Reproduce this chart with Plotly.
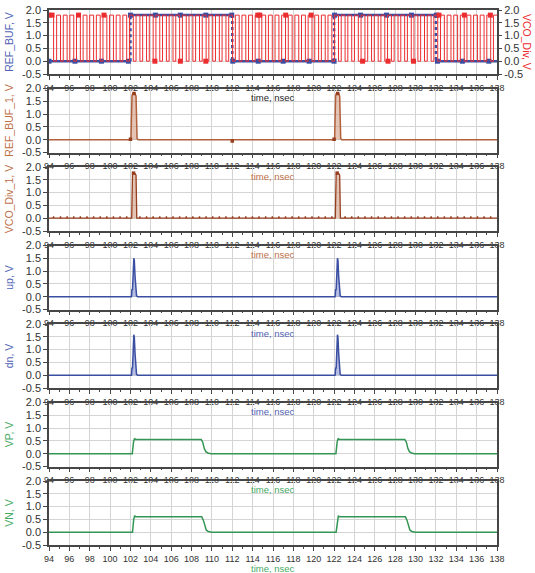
import plotly.graph_objects as go

# ---------------- data ----------------
X_TICKS = list(range(94, 139, 2))
Y_TICKS = [-0.5, 0.0, 0.5, 1.0, 1.5, 2.0]
Y_TICK_TEXT = ["-0.5", "0.0", "0.5", "1.0", "1.5", "2.0"]
X_TITLE = "time, nsec"

Y_TITLES = ["REF_BUF, V", "REF_BUF_1, V", "VCO_Div_1, V", "up, V", "dn, V", "VP, V", "VN, V"]
Y2_TITLE = "VCO_Div, V"

# REF_BUF (blue, top panel)
REF_BUF_T = [94, 102, 102, 112, 112, 122, 122, 132, 132, 138]
REF_BUF_V = [0, 0, 1.8, 1.8, 0, 0, 1.8, 1.8, 0, 0]
REF_BUF_MK_T = [94.0, 96.55, 99.15, 101.8, 102.0, 104.45, 106.9, 109.4, 111.95, 112.05, 114.55,
                117.0, 119.55, 122.0, 122.05, 124.6, 127.15, 129.6, 132.05, 132.15, 134.6, 137.2]
REF_BUF_MK_V = [0, 0, 0, 0, 1.8, 1.8, 1.8, 1.8, 1.8, 0, 0,
                0, 0, 0, 1.8, 1.8, 1.8, 1.8, 1.8, 0, 0, 0]

# VCO_Div (red, top panel, right axis)
VCO_HIGH = 1.8
VCO_LOW = 0.0
VCO_FALL = [94.45, 95.13, 95.78, 96.43, 97.08, 97.73, 98.38, 99.03, 99.68, 100.33, 100.98,
            101.63, 102.28, 102.93, 103.58, 104.23, 104.88, 105.53, 106.18, 106.83, 107.48,
            108.13, 108.78, 109.43, 110.08, 110.73, 111.38, 112.03, 112.68, 113.33, 113.98,
            114.63, 115.28, 115.93, 116.58, 117.23, 117.88, 118.53, 119.18, 119.83, 120.48,
            121.13, 121.78, 122.43, 123.08, 123.73, 124.38, 125.03, 125.68, 126.33, 126.98,
            127.63, 128.28, 128.93, 129.58, 130.23, 130.88, 131.53, 132.18, 132.83, 133.48,
            134.13, 134.78, 135.43, 136.08, 136.73, 137.38]
VCO_RISE = [94.75, 95.40, 96.05, 96.70, 97.35, 98.00, 98.65, 99.30, 99.95, 100.60, 101.25,
            101.90, 102.55, 103.20, 103.85, 104.50, 105.15, 105.80, 106.45, 107.10, 107.75,
            108.40, 109.05, 109.70, 110.35, 111.00, 111.65, 112.30, 112.95, 113.60, 114.25,
            114.90, 115.55, 116.20, 116.85, 117.50, 118.15, 118.80, 119.45, 120.10, 120.75,
            121.40, 122.05, 122.70, 123.35, 124.00, 124.65, 125.30, 125.95, 126.60, 127.25,
            127.90, 128.55, 129.20, 129.85, 130.50, 131.15, 131.80, 132.45, 133.10, 133.75,
            134.40, 135.05, 135.70, 136.35, 137.00, 137.65]
VCO_MK_T = [94.0, 94.3, 96.9, 99.4, 104.4, 106.9, 109.4, 114.5, 114.7, 117.25, 119.75,
            124.8, 127.3, 129.8, 132.3, 134.8, 137.35]
VCO_MK_V = [1.8, 1.8, 1.8, 1.8, 0, 0, 0, 1.8, 1.8, 1.8, 1.8,
            0, 0, 0, 1.8, 1.8, 1.8]

# REF_BUF_1
REF_BUF_1_T = [94, 102.05, 102.15, 102.25, 102.45, 102.55, 102.65, 102.75, 111.98, 112.0, 112.04,
               122.05, 122.15, 122.25, 122.45, 122.55, 122.65, 122.75, 138]
REF_BUF_1_V = [0, 0, 1.72, 1.82, 1.8, 1.7, 0.05, 0, 0, -0.05, 0,
               0, 1.72, 1.82, 1.8, 1.7, 0.05, 0, 0]
REF_BUF_1_MK_T = [102.0, 102.35, 112.0, 122.0, 122.35]
REF_BUF_1_MK_V = [0.02, 1.8, -0.05, 0.02, 1.8]

# VCO_Div_1
VCO1_PULSE_T = [102.12, 102.2, 102.27, 102.45, 102.55, 102.62,
                122.12, 122.2, 122.27, 122.45, 122.55, 122.62]
VCO1_PULSE_V = [0, 1.68, 1.78, 1.75, 1.68, 0,
                0, 1.68, 1.78, 1.75, 1.68, 0]
VCO1_BUMP_H = 0.07
VCO1_MK_T = [102.3, 122.3]
VCO1_MK_V = [1.76, 1.76]

# up / dn
UP_T = [94, 102.1, 102.15, 102.2, 102.27, 102.33, 102.38, 102.45, 102.52, 102.6, 102.7,
        122.1, 122.15, 122.2, 122.27, 122.33, 122.38, 122.45, 122.52, 122.6, 122.7, 138]
UP_V = [0, 0, 0.3, 0.25, 0.9, 1.5, 1.42, 0.8, 0.2, 0.03, 0,
        0, 0.3, 0.25, 0.9, 1.5, 1.42, 0.8, 0.2, 0.03, 0, 0]
DN_T = [94, 102.1, 102.15, 102.2, 102.27, 102.33, 102.38, 102.45, 102.52, 102.6, 102.7,
        122.1, 122.15, 122.2, 122.27, 122.33, 122.38, 122.45, 122.52, 122.6, 122.7, 138]
DN_V = [0, 0, 0.3, 0.25, 0.95, 1.58, 1.48, 0.85, 0.2, 0.03, 0,
        0, 0.3, 0.25, 0.95, 1.58, 1.48, 0.85, 0.2, 0.03, 0, 0]

# VP / VN
VP_T = [94, 102.18, 102.3, 102.4, 102.5, 108.95, 109.1, 109.25, 109.4, 109.6, 109.9,
        122.18, 122.3, 122.4, 122.5, 128.95, 129.1, 129.25, 129.4, 129.6, 129.9, 138]
VP_V = [0, 0, 0.45, 0.6, 0.55, 0.55, 0.45, 0.2, 0.08, 0.03, 0,
        0, 0.45, 0.6, 0.55, 0.55, 0.45, 0.2, 0.08, 0.03, 0, 0]
VN_T = [94, 102.2, 102.32, 102.42, 102.5, 109.0, 109.15, 109.3, 109.45, 109.65, 109.95,
        122.2, 122.32, 122.42, 122.5, 129.0, 129.15, 129.3, 129.45, 129.65, 129.95, 138]
VN_V = [0, 0, 0.5, 0.65, 0.6, 0.6, 0.48, 0.22, 0.08, 0.03, 0,
        0, 0.5, 0.65, 0.6, 0.6, 0.48, 0.22, 0.08, 0.03, 0, 0]

# ---------------- styles ----------------
BLUE = "rgb(58,78,162)"
BLUE_T = "rgb(80,98,180)"
RED = "rgb(236,45,48)"
BROWN = "rgb(178,96,60)"
BROWN_DK = "rgb(150,62,30)"
BROWN_T = "rgb(190,112,72)"
GREEN = "rgb(52,150,84)"
GREEN_T = "rgb(70,170,100)"
FONT = "Liberation Sans, Arial, sans-serif"

TITLE_COLORS = [BLUE_T, BROWN_T, BROWN_T, BLUE_T, BLUE_T, GREEN_T, GREEN_T]
XT_COLORS = ["rgb(40,40,40)", BROWN_T, BROWN_T, BLUE_T, BLUE_T, GREEN_T, GREEN_T]

W, H = 535, 573
ML, MR, MT, MB = 49, 38, 10, 26
PH = H - MT - MB
PANEL_H, GAP = 64, 14.5


def dom(i):
    top = i * (PANEL_H + GAP)
    bot = top + PANEL_H
    return [max(0, 1 - bot / PH), 1 - top / PH]


def step_wave(falls, rises, hi, lo, t0, t1):
    ev = sorted([(t, lo) for t in falls] + [(t, hi) for t in rises])
    xs, ys = [t0], [hi]
    lvl = hi
    for t, new in ev:
        if t > t1:
            break
        xs += [t, t]
        ys += [lvl, new]
        lvl = new
    xs.append(t1)
    ys.append(lvl)
    return xs, ys


fig = go.Figure()

# panel 1: REF_BUF and VCO_Div
vx, vy = step_wave(VCO_FALL, VCO_RISE, VCO_HIGH, VCO_LOW, 94, 138)
fig.add_trace(go.Scatter(x=vx, y=vy, mode="lines", line=dict(color=RED, width=1),
                         xaxis="x", yaxis="y8"))
fig.add_trace(go.Scatter(x=VCO_MK_T, y=VCO_MK_V, mode="markers",
                         marker=dict(color=RED, size=5, symbol="square"),
                         xaxis="x", yaxis="y8"))

hx, hy, ex, ey = [], [], [], []
for i in range(len(REF_BUF_T) - 1):
    a, b = REF_BUF_T[i], REF_BUF_T[i + 1]
    if a == b:
        ex += [a, b, None]
        ey += [REF_BUF_V[i], REF_BUF_V[i + 1], None]
    else:
        hx += [a, b, None]
        hy += [REF_BUF_V[i], REF_BUF_V[i + 1], None]
fig.add_trace(go.Scatter(x=hx, y=hy, mode="lines", line=dict(color=BLUE, width=2.5),
                         xaxis="x", yaxis="y"))
fig.add_trace(go.Scatter(x=ex, y=ey, mode="lines", line=dict(color=BLUE, width=2.5, dash="dot"),
                         xaxis="x", yaxis="y"))
fig.add_trace(go.Scatter(x=REF_BUF_MK_T, y=REF_BUF_MK_V, mode="markers",
                         marker=dict(color=BLUE, size=5, symbol="square"),
                         xaxis="x", yaxis="y"))

# panel 2: REF_BUF_1
fig.add_trace(go.Scatter(x=REF_BUF_1_T, y=REF_BUF_1_V, mode="lines", fill="tozeroy",
                         fillcolor="rgba(205,150,120,0.55)",
                         line=dict(color=BROWN, width=1.5), xaxis="x2", yaxis="y2"))
fig.add_trace(go.Scatter(x=REF_BUF_1_MK_T, y=REF_BUF_1_MK_V, mode="markers",
                         marker=dict(color=BROWN_DK, size=3.5, symbol="square"),
                         xaxis="x2", yaxis="y2"))

# panel 3: VCO_Div_1 (coupling bumps at each VCO falling edge)
pts = list(zip(VCO1_PULSE_T, VCO1_PULSE_V))
for t in VCO_FALL:
    if any(abs(t - p) < 0.5 for p in (102.35, 122.35)):
        continue
    pts += [(t - 0.04, 0.0), (t, VCO1_BUMP_H), (t + 0.04, 0.0)]
pts += [(94, 0.0), (138, 0.0)]
pts.sort()
fig.add_trace(go.Scatter(x=[p[0] for p in pts], y=[p[1] for p in pts], mode="lines",
                         fill="tozeroy", fillcolor="rgba(205,150,120,0.55)",
                         line=dict(color=BROWN_DK, width=1.3), xaxis="x3", yaxis="y3"))
fig.add_trace(go.Scatter(x=VCO1_MK_T, y=VCO1_MK_V, mode="markers",
                         marker=dict(color=BROWN_DK, size=3.5, symbol="square"),
                         xaxis="x3", yaxis="y3"))

# panel 4, 5: up / dn
fig.add_trace(go.Scatter(x=UP_T, y=UP_V, mode="lines", fill="tozeroy",
                         fillcolor="rgba(110,125,200,0.5)",
                         line=dict(color=BLUE, width=1.5), xaxis="x4", yaxis="y4"))
fig.add_trace(go.Scatter(x=DN_T, y=DN_V, mode="lines", fill="tozeroy",
                         fillcolor="rgba(110,125,200,0.5)",
                         line=dict(color=BLUE, width=1.5), xaxis="x5", yaxis="y5"))

# panel 6, 7: VP / VN
fig.add_trace(go.Scatter(x=VP_T, y=VP_V, mode="lines",
                         line=dict(color=GREEN, width=1.5), xaxis="x6", yaxis="y6"))
fig.add_trace(go.Scatter(x=VN_T, y=VN_V, mode="lines",
                         line=dict(color=GREEN, width=1.5), xaxis="x7", yaxis="y7"))

layout = dict(
    width=W, height=H, margin=dict(l=ML, r=MR, t=MT, b=MB),
    paper_bgcolor="white", plot_bgcolor="white", showlegend=False,
    font=dict(family=FONT, color="rgb(40,40,40)"),
    template="none",
)

AX_LINE = "rgb(70,70,70)"
GRID = "rgb(212,212,212)"
annotations = []
for i in range(7):
    n = "" if i == 0 else str(i + 1)
    d = dom(i)
    layout["xaxis" + n] = dict(
        domain=[0, 1], anchor="y" + n, range=[94, 138],
        tickvals=X_TICKS, ticktext=[str(v) for v in X_TICKS],
        ticks="outside", ticklen=4, tickwidth=1, tickcolor=AX_LINE,
        tickfont=dict(size=9, color="rgb(50,50,50)"),
        showgrid=True, gridcolor=GRID, gridwidth=1, zeroline=False,
        showline=True, linecolor=AX_LINE, linewidth=1.5, mirror=True,
        minor=dict(dtick=1, tick0=94, ticks="outside", ticklen=2, tickcolor=AX_LINE, showgrid=False),
        automargin=False,
    )
    layout["yaxis" + n] = dict(
        domain=d, anchor="x" + n, range=[-0.5, 2.0],
        tickvals=Y_TICKS, ticktext=Y_TICK_TEXT,
        ticks="outside", ticklen=4, tickwidth=1, tickcolor=AX_LINE,
        tickfont=dict(size=11, color="rgb(50,50,50)"),
        showgrid=True, gridcolor=GRID, gridwidth=1, zeroline=False,
        showline=True, linecolor=AX_LINE, linewidth=1.5, mirror=True,
        title=dict(text=Y_TITLES[i], font=dict(size=10.5, color=TITLE_COLORS[i]), standoff=6),
        automargin=False,
    )
    annotations.append(dict(
        text=X_TITLE, xref="paper", yref="paper", x=0.5,
        y=d[0] - 23.5 / PH, xanchor="center", yanchor="middle", showarrow=False,
        borderpad=0, font=dict(size=9.5, color=XT_COLORS[i]),
    ))

layout["yaxis8"] = dict(
    overlaying="y", side="right", anchor="x", range=[-0.5, 2.0],
    tickvals=Y_TICKS, ticktext=Y_TICK_TEXT,
    ticks="outside", ticklen=4, tickwidth=1, tickcolor=AX_LINE,
    tickfont=dict(size=11, color="rgb(50,50,50)"),
    showgrid=False, zeroline=False, showline=False, automargin=False,
)
annotations.append(dict(
    text=Y2_TITLE, xref="paper", yref="paper", x=1 + 30 / (W - ML - MR),
    y=(dom(0)[0] + dom(0)[1]) / 2, xanchor="center", yanchor="middle",
    textangle=90, showarrow=False, font=dict(size=10.5, color=RED),
))
layout["annotations"] = annotations

fig.update_layout(**layout)
fig.write_html("out.html", config={"displayModeBar": False},
               post_script="document.body.style.margin='0px';document.body.style.padding='0px';")
